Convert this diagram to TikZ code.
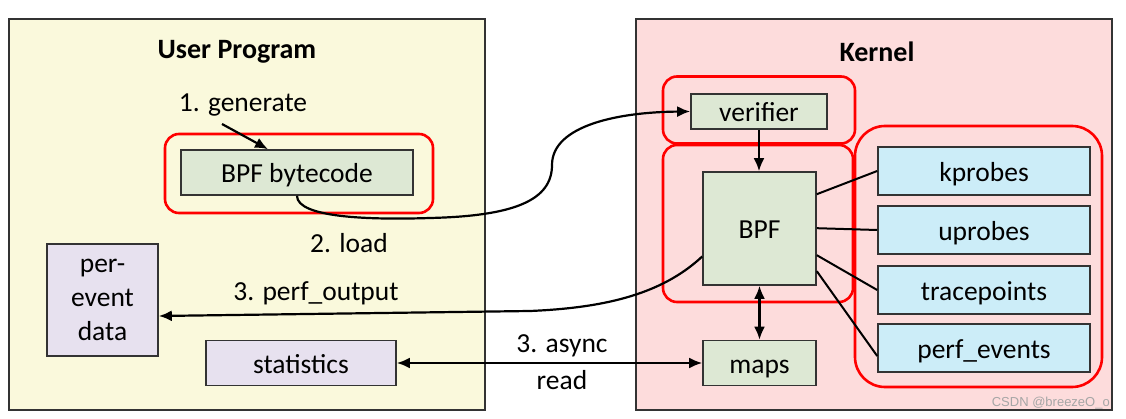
\documentclass[tikz,border=0pt]{standalone}
\usepackage{fontspec}
\setmainfont{Carlito}
\newfontfamily\wmfont{Liberation Sans}
\usetikzlibrary{arrows.meta,calc}
\definecolor{userbg}{HTML}{FAF9DC}
\definecolor{kernbg}{HTML}{FDDCDC}
\definecolor{greenbox}{HTML}{DDE8D4}
\definecolor{lavbox}{HTML}{E7E1EF}
\definecolor{bluebox}{HTML}{CCEDF8}
\definecolor{redline}{HTML}{FF0000}
\definecolor{edge}{HTML}{333333}
\begin{document}
\begin{tikzpicture}[x=1pt,y=-1pt,
  txt/.style={font=\fontsize{27.5}{34}\selectfont, inner sep=0pt},
  title/.style={font=\fontsize{28}{30}\selectfont\bfseries, inner sep=0pt},
  region/.style={draw=edge, line width=1.6pt, inner sep=0pt},
  box/.style={draw=edge, line width=1.6pt, inner sep=0pt, font=\fontsize{27.5}{34}\selectfont, align=center},
  onebox/.style={box, text height=22pt, text depth=1pt},
  redgroup/.style={draw=redline, line width=2.6pt, rounded corners=14pt, inner sep=0pt},
  arr/.style={line width=2.2pt, -{Latex[length=13pt,width=11pt]}},
  darr/.style={line width=2.2pt, {Latex[length=13pt,width=11pt]}-{Latex[length=13pt,width=11pt]}},
  link/.style={line width=2pt}]
\useasboundingbox (0,0) rectangle (1126,419);
\fill[white] (0,0) rectangle (1126,419);

% regions
\node[region, fill=userbg, minimum width=476pt, minimum height=391pt] (user) at (247,214.5) {};
\node[region, fill=kernbg, minimum width=476pt, minimum height=391pt] (kernel) at (874,214.5) {};
\node[title] (usertitle) at (237,52) {User Program};
\node[title] (kerntitle) at (877,52) {Kernel};

% red groups
\node[redgroup, minimum width=268pt, minimum height=79pt] (gbc) at (299,173.5) {};
\node[redgroup, minimum width=192pt, minimum height=67pt] (gver) at (759,110) {};
\node[redgroup, minimum width=190pt, minimum height=157pt] (gbpf) at (758,223.5) {};
\node[redgroup, minimum width=247pt, minimum height=261pt, rounded corners=30pt] (gev) at (978.5,256.5) {};

% user side boxes
\node[onebox, fill=greenbox, minimum width=232pt, minimum height=45pt] (bytecode) at (297,172.5) {BPF bytecode};
\node[box, fill=lavbox, minimum width=111pt, minimum height=112pt] (perevent) at (102.5,300) {per-\\event\\data};
\node[onebox, fill=lavbox, minimum width=190pt, minimum height=45pt] (stats) at (301,363) {statistics};

% kernel boxes
\node[onebox, fill=greenbox, minimum width=136pt, minimum height=35pt] (verifier) at (759,111.5) {verifier};
\node[onebox, fill=greenbox, minimum width=113pt, minimum height=113pt] (bpf) at (759.5,228.5) {BPF};
\node[onebox, fill=greenbox, minimum width=113pt, minimum height=45pt] (maps) at (759.5,363) {maps};
\node[onebox, fill=bluebox, minimum width=212pt, minimum height=48pt] (kprobes) at (984,171) {kprobes};
\node[onebox, fill=bluebox, minimum width=212pt, minimum height=48pt] (uprobes) at (984,230) {uprobes};
\node[onebox, fill=bluebox, minimum width=212pt, minimum height=48pt] (tracep) at (984,290) {tracepoints};
\node[onebox, fill=bluebox, minimum width=212pt, minimum height=48pt] (perfev) at (984,348) {perf\_events};

% labels
\node[txt] (lgen) at (243,105) {1. generate};
\node[txt] (lload) at (349,243) {2. load};
\node[txt] (lperf) at (316,293) {3. perf\_output};
\node[txt] (lasync) at (562,346) {3. async};
\node[txt] (lread) at (562,380) {read};

% connectors
\coordinate (genstart) at (222,124);
\draw[arr] (genstart) -- ($(bytecode.north)+(-29,0)$);
\draw[arr] (bytecode.south) .. controls +(0,22) and (370,220) .. (430,218)
  .. controls (515,216) and (552,200) .. (552,165)
  .. controls (552,125) and (620,112) .. (verifier.west);
\draw[arr] ($(bpf.west)+(0,28)$) .. controls (660,296) and (600,308) .. (530,311)
  -- ($(perevent.east)+(0,16)$);
\draw[darr] (stats.east) -- (maps.west);
\draw[arr] (verifier.south) -- (verifier.south |- bpf.north);
\draw[darr] (bpf.south) -- (maps.north);
\draw[link] ($(bpf.north east)+(0,23)$) -- (kprobes.west);
\draw[link] ($(bpf.north east)+(0,57)$) -- (uprobes.west);
\draw[link] ($(bpf.north east)+(0,84)$) -- (tracep.west);
\draw[link] ($(bpf.north east)+(0,100)$) -- ($(perfev.west)+(0,8)$);

% watermark
\node[font=\wmfont\fontsize{13}{14}\selectfont, text=black!35, anchor=east, inner sep=0pt] (wm) at (1110,403) {CSDN @breezeO\_o};
\end{tikzpicture}
\end{document}
